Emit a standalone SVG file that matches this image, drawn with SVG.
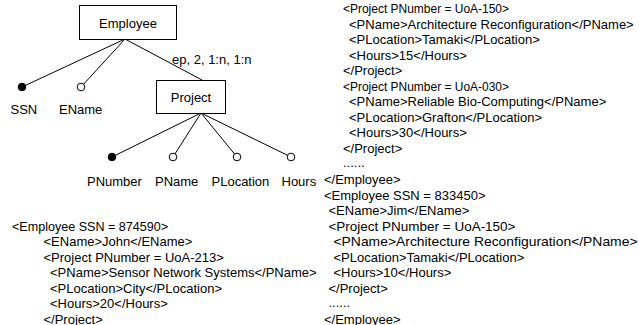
<svg xmlns="http://www.w3.org/2000/svg" width="639" height="325" viewBox="0 0 639 325">
<style>
text{font-family:"Liberation Sans",Arial,sans-serif;font-size:13px;fill:#000}
.box{fill:#fff;stroke:#000;stroke-width:1}
.edge{stroke:#000;stroke-width:1;fill:none}
.key{fill:#000;stroke:#000}
.attr{fill:#fff;stroke:#000;stroke-width:1}
</style>
<rect width="639" height="325" fill="#fff"/>
<g id="connectors">
<line class="edge" x1="125" y1="39" x2="22" y2="87"/>
<line class="edge" x1="125" y1="39" x2="81" y2="87"/>
<line class="edge" x1="125" y1="39" x2="202" y2="80"/>
<line class="edge" x1="201" y1="113" x2="112" y2="157"/>
<line class="edge" x1="201" y1="113" x2="173" y2="157"/>
<line class="edge" x1="201" y1="113" x2="237" y2="157"/>
<line class="edge" x1="201" y1="113" x2="291" y2="157"/>
<text x="172" y="64">ep, 2, 1:n, 1:n</text>
</g>
<g id="employee">
<rect class="box" x="79.5" y="5.5" width="97" height="34"/>
<text x="128" y="27.5" text-anchor="middle">Employee</text>
</g>
<g id="project">
<rect class="box" x="156.5" y="80.5" width="69" height="33"/>
<text x="191" y="101.5" text-anchor="middle">Project</text>
</g>
<g id="ssn">
<circle class="key" cx="22" cy="87" r="3.8"/>
<text x="10.5" y="113.5">SSN</text>
</g>
<g id="ename">
<circle class="attr" cx="81" cy="87" r="3.8"/>
<text x="59" y="113.5">EName</text>
</g>
<g id="pnumber">
<circle class="key" cx="112" cy="157" r="3.8"/>
<text x="87" y="185.5">PNumber</text>
</g>
<g id="pname">
<circle class="attr" cx="173" cy="157" r="3.8"/>
<text x="155" y="185.5">PName</text>
</g>
<g id="plocation">
<circle class="attr" cx="237" cy="157" r="3.8"/>
<text x="211.5" y="185.5">PLocation</text>
</g>
<g id="hours">
<circle class="attr" cx="291" cy="157" r="3.8"/>
<text x="281.5" y="185.5">Hours</text>
</g>
<g id="xml-left">
<text x="12" y="230.7" textLength="156" lengthAdjust="spacingAndGlyphs">&lt;Employee SSN = 874590&gt;</text>
<text x="43.5" y="246.2">&lt;EName&gt;John&lt;/EName&gt;</text>
<text x="43.5" y="261.8">&lt;Project PNumber = UoA-213&gt;</text>
<text x="50" y="277.3">&lt;PName&gt;Sensor Network Systems&lt;/PName&gt;</text>
<text x="50" y="292.9">&lt;PLocation&gt;City&lt;/PLocation&gt;</text>
<text x="50" y="308.4">&lt;Hours&gt;20&lt;/Hours&gt;</text>
<text x="43.5" y="324">&lt;/Project&gt;</text>
</g>
<g id="xml-right">
<text x="343" y="13" textLength="166" lengthAdjust="spacingAndGlyphs">&lt;Project PNumber = UoA-150&gt;</text>
<text x="349" y="28.5">&lt;PName&gt;Architecture Reconfiguration&lt;/PName&gt;</text>
<text x="349" y="44.1">&lt;PLocation&gt;Tamaki&lt;/PLocation&gt;</text>
<text x="349" y="59.6">&lt;Hours&gt;15&lt;/Hours&gt;</text>
<text x="343" y="75.2">&lt;/Project&gt;</text>
<text x="343" y="90.7" textLength="166" lengthAdjust="spacingAndGlyphs">&lt;Project PNumber = UoA-030&gt;</text>
<text x="349" y="106.3">&lt;PName&gt;Reliable Bio-Computing&lt;/PName&gt;</text>
<text x="349" y="121.8">&lt;PLocation&gt;Grafton&lt;/PLocation&gt;</text>
<text x="349" y="137.4">&lt;Hours&gt;30&lt;/Hours&gt;</text>
<text x="343" y="152.9">&lt;/Project&gt;</text>
<text x="343" y="167">......</text>
<text x="324" y="184">&lt;/Employee&gt;</text>
<text x="324" y="199.6">&lt;Employee SSN = 833450&gt;</text>
<text x="328.5" y="215.1">&lt;EName&gt;Jim&lt;/EName&gt;</text>
<text x="328.5" y="230.7" textLength="187" lengthAdjust="spacingAndGlyphs">&lt;Project PNumber = UoA-150&gt;</text>
<text x="333.5" y="246.2" textLength="304" lengthAdjust="spacingAndGlyphs">&lt;PName&gt;Architecture Reconfiguration&lt;/PName&gt;</text>
<text x="333.5" y="261.8">&lt;PLocation&gt;Tamaki&lt;/PLocation&gt;</text>
<text x="333.5" y="277.3">&lt;Hours&gt;10&lt;/Hours&gt;</text>
<text x="328.5" y="292.9">&lt;/Project&gt;</text>
<text x="328.5" y="307">......</text>
<text x="324" y="324">&lt;/Employee&gt;</text>
</g>
</svg>
